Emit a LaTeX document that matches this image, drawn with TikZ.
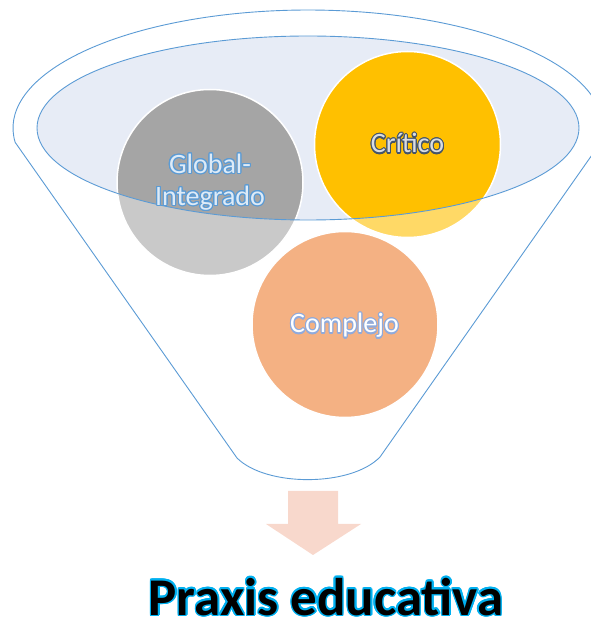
\documentclass[tikz,border=0pt]{standalone}
\usepackage{fontspec}
\setmainfont{Carlito}
\usepackage{contour}
\contourlength{1.1pt}
\usetikzlibrary{calc}
\definecolor{funnelblue}{HTML}{5B9BD5}
\definecolor{lidblue}{HTML}{E7ECF6}
\definecolor{greyball}{HTML}{A5A5A5}
\definecolor{goldball}{HTML}{FFC000}
\definecolor{orangeball}{HTML}{ED7D31}
\definecolor{arrowpink}{HTML}{F8D8CC}
\definecolor{slate}{HTML}{44546A}
\definecolor{softblue}{HTML}{8FAADC}
\definecolor{paleblue}{HTML}{DEEBF7}
\definecolor{cyanglow}{HTML}{00B0F0}

\begin{document}
\begin{tikzpicture}[x=1pt,y=1pt,
	ball/.style={circle,draw=white,line width=1.5pt,minimum size=186pt,inner sep=0pt},
	tag/.style={font=\fontsize{28}{32}\selectfont,align=center,inner sep=0pt},
	rim/.style={draw=funnelblue,line width=0.9pt}]
	\useasboundingbox (0,0) rectangle (591,624);
	\coordinate (c) at (308,496);
	% lid of the funnel
	\fill[lidblue] (c) ellipse[x radius=271pt,y radius=92pt];
	% the three balls
	\node[ball,fill=greyball] (global) at (210,441.5) {};
	\node[ball,fill=goldball] (critico) at (407.5,479.5) {};
	\node[ball,fill=orangeball] (complejo) at (345,299.5) {};
	% body of the funnel, washed out
	\fill[white,opacity=0.4,even odd rule] (600.8,481.6) arc[start angle=-7,end angle=187,x radius=295pt,y radius=118pt]
		-- (237,166) .. controls (266,137) and (351,137) .. (380,167) -- cycle
		(c) ellipse[x radius=271pt,y radius=92pt];
	\draw[rim] (600.8,481.6) arc[start angle=-7,end angle=187,x radius=295pt,y radius=118pt]
		-- (237,166) .. controls (266,137) and (351,137) .. (380,167) -- cycle;
	\draw[rim] (c) ellipse[x radius=271pt,y radius=92pt];
	%labels
	\node[tag,text=paleblue] (globaltxt) at (global) {\contour{funnelblue}{Global-}\\\contour{funnelblue}{Integrado}};
	\node[tag,text=slate!20!white,anchor=base] (criticotxt) at (407.5,471) {\contour{slate}{Crítico}};
	\node[tag,text=white,anchor=base] (complejotxt) at (344.5,291) {\contour{softblue}{Complejo}};
	% arrow out of the funnel
	\fill[arrowpink] (288,133) -- (338,133) -- (338,100) -- (361,100) -- (313,69) -- (266,100) -- (288,100) -- cycle;
	\node[font=\fontsize{53}{58}\bfseries,anchor=base,inner sep=0pt] (praxis) at (326,9) {\contourlength{1.5pt}\contour{cyanglow}{Praxis educativa}};
\end{tikzpicture}
\end{document}
